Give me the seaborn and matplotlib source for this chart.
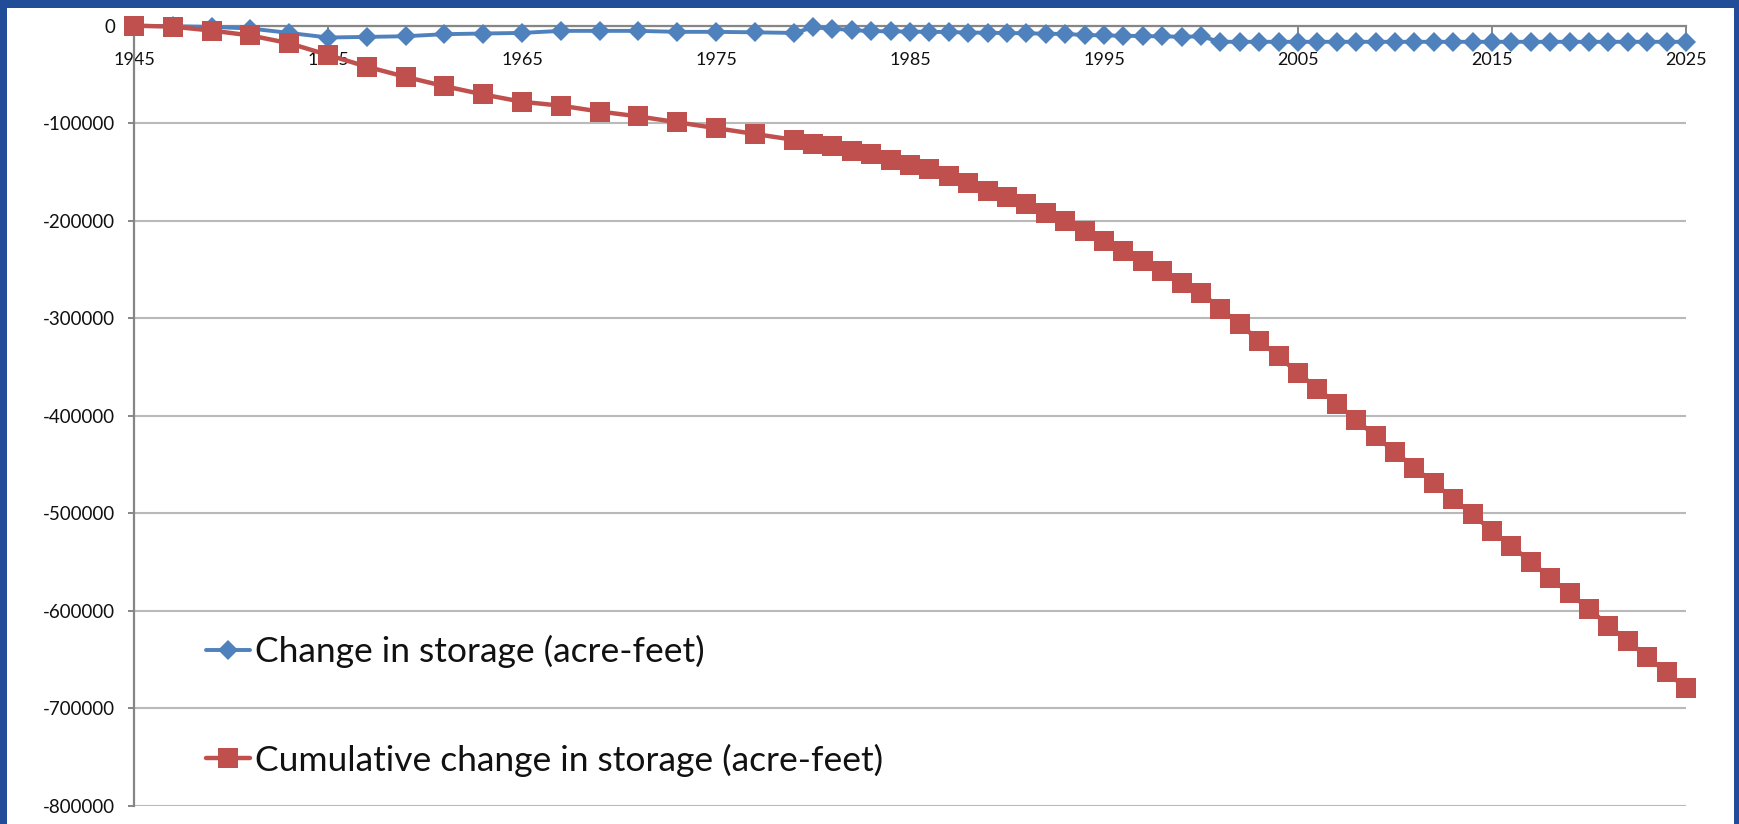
import pandas as pd
import matplotlib.pyplot as plt
import seaborn as sns
from matplotlib.patches import Rectangle
from matplotlib.ticker import FuncFormatter, MultipleLocator

# ------------------------------------------------------------------
# data (acre-feet)
# ------------------------------------------------------------------
years = [1945, 1947, 1949, 1951, 1953, 1955, 1957, 1959, 1961, 1963,
         1965, 1967, 1969, 1971, 1973, 1975, 1977, 1979,
         1980, 1981, 1982, 1983, 1984, 1985, 1986, 1987, 1988, 1989,
         1990, 1991, 1992, 1993, 1994, 1995, 1996, 1997, 1998, 1999,
         2000, 2001, 2002, 2003, 2004, 2005, 2006, 2007, 2008, 2009,
         2010, 2011, 2012, 2013, 2014, 2015, 2016, 2017, 2018, 2019,
         2020, 2021, 2022, 2023, 2024, 2025]

change = [0, -500, -1200, -2900, -7400, -12100, -11500, -10800, -8700, -8000,
          -7400, -5300, -5300, -5300, -6300, -6300, -6800, -7400,
          -1800, -2900, -4600, -5500, -5800, -6000, -6300, -6500, -7000, -7200,
          -7500, -7800, -8200, -8500, -9500, -10000, -10300, -10600, -11000, -11300,
          -11000, -16500, -16500, -16500, -16500, -16500, -16500, -16500, -16500, -16500,
          -16500, -16500, -16500, -16500, -16500, -16500, -16500, -16500, -16500, -16500,
          -16500, -16500, -16500, -16500, -16500, -16500]

cumulative = [0, -1000, -5000, -10000, -18000, -30000, -42000, -52500, -62000, -70500,
              -78000, -82000, -88000, -93000, -99000, -105000, -111000, -117000,
              -121000, -123500, -128000, -132000, -137500, -142500, -147000, -154000, -161000, -169000,
              -176000, -183000, -192000, -200000, -210000, -221000, -231000, -241000, -252000, -264000,
              -274000, -290000, -306000, -323000, -339000, -356000, -372000, -388000, -404000, -421000,
              -437000, -453000, -469000, -485000, -501000, -518000, -533000, -550000, -566000, -582000,
              -598000, -615000, -631000, -647000, -663000, -679000]

x_ticks = [1945, 1955, 1965, 1975, 1985, 1995, 2005, 2015, 2025]

label_change = 'Change in storage (acre-feet)'
label_cumul = 'Cumulative change in storage (acre-feet)'

BLUE = '#4F81BD'
RED = '#C0504D'
FRAME = '#214C97'
AXIS_GREY = '#868686'
GRID_GREY = '#B9B9B9'

sns.set_theme(style='white')
plt.rcParams['font.family'] = ['Lato', 'DejaVu Sans']
plt.rcParams['axes.unicode_minus'] = False

df = pd.DataFrame({'Year': years, 'Change': change, 'Cumulative': cumulative})

fig = plt.figure(figsize=(17.39, 8.24), dpi=100, facecolor=FRAME)
# white slide area inside the blue frame
fig.patches.append(Rectangle((7 / 1739, 0), (1734 - 7) / 1739, (824 - 8) / 824,
                             transform=fig.transFigure, facecolor='white',
                             edgecolor='none', zorder=-1))

ax = fig.add_axes([134 / 1739, 1 - 806 / 824, (1686 - 134) / 1739, (806 - 25.7) / 824])
ax.set_facecolor('none')

sns.lineplot(data=df, x='Year', y='Change', ax=ax, color=BLUE, linewidth=2.8,
             marker='D', markersize=10.5, markeredgewidth=0, label=label_change,
             clip_on=False, zorder=3)
sns.lineplot(data=df, x='Year', y='Cumulative', ax=ax, color=RED, linewidth=3.2,
             marker='s', markersize=14, markeredgewidth=0, label=label_cumul,
             clip_on=False, zorder=4)

ax.set_xlim(1945, 2025)
ax.set_ylim(-800000, 0)
ax.set_xlabel('')
ax.set_ylabel('')

# category-like axis crossing at zero (top of the plot)
ax.spines['bottom'].set_position(('data', 0))
ax.spines['bottom'].set_color(AXIS_GREY)
ax.spines['bottom'].set_linewidth(1.6)
ax.spines['left'].set_color(AXIS_GREY)
ax.spines['left'].set_linewidth(1.6)
ax.spines['top'].set_visible(False)
ax.spines['right'].set_visible(False)

ax.set_xticks(x_ticks)
ax.set_xticklabels([str(y) for y in x_ticks])
ax.yaxis.set_major_locator(MultipleLocator(100000))
ax.yaxis.set_major_formatter(FuncFormatter(lambda v, p: f'{int(round(v))}'))

ax.tick_params(axis='x', direction='out', length=6, width=1.4, color=AXIS_GREY,
               pad=13, labelsize=13, labelcolor='#111111', bottom=True)
ax.tick_params(axis='y', direction='out', length=4.5, width=1.4, color=AXIS_GREY,
               pad=9, labelsize=13.5, labelcolor='#111111', left=True)

ax.grid(axis='y', color=GRID_GREY, linewidth=1.5)
ax.grid(axis='x', visible=False)
ax.set_axisbelow(True)

leg = ax.legend(loc='upper left', bbox_to_anchor=(206 / 1739, 1 - 635 / 824),
                bbox_transform=fig.transFigure, frameon=False, fontsize=25.5,
                handlelength=1.25, handletextpad=0.12, labelspacing=2.13,
                borderpad=0, borderaxespad=0)
for t in leg.get_texts():
    t.set_color('#111111')

fig.savefig('out.png', dpi=100, facecolor=fig.get_facecolor())
